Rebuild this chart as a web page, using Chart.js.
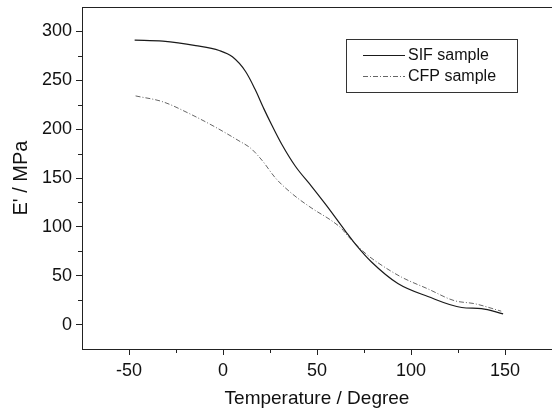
<!DOCTYPE html>
<html>
<head>
<meta charset="utf-8">
<script src="https://cdn.jsdelivr.net/npm/chart.js@4/dist/chart.umd.min.js"></script>
<style>
html,body{margin:0;padding:0;background:#fff;}
#c{display:block;}
</style>
</head>
<body>
<canvas id="c" width="552" height="414"></canvas>
<script>
// Data
const seriesLabels = ["SIF sample", "CFP sample"];
const sifT = [-47, -32, -14.5, -2, 5, 12, 17, 21.7, 26, 31.4, 38.5, 47.3, 55, 65, 71.2, 79, 93, 109, 127, 137.5, 149];
const sifE = [291, 290, 285.5, 280.5, 274, 259, 241, 221, 204, 184, 162, 141, 122, 96, 80.5, 64, 42, 28.7, 17.5, 16.4, 11];
const cfpT = [-46.5, -32, -18, -4, 8.5, 14.7, 20.8, 27.9, 36.7, 47.3, 58, 63.2, 66, 76, 83, 95, 109, 123, 134, 148];
const cfpE = [234, 228, 216, 202, 188, 180.5, 168, 150, 134, 119, 106, 98, 91.5, 72.5, 62.5, 48.5, 36.5, 24.5, 21.3, 13.7];
const xMajorTicks = [-50, 0, 50, 100, 150];
const yMajorTicks = [0, 50, 100, 150, 200, 250, 300];

const FONT = "'Liberation Sans', Arial, sans-serif";
const toPts = (xs, ys) => xs.map((x, i) => ({x: x, y: ys[i]}));

const minorTicks = {
  id: 'minorTicks',
  afterDraw(chart) {
    const ctx = chart.ctx, a = chart.chartArea;
    const xs = chart.scales.x, ys = chart.scales.y;
    ctx.save();
    ctx.strokeStyle = '#222';
    ctx.lineWidth = 1;
    ctx.beginPath();
    // top frame line
    ctx.moveTo(a.left, a.top + 0.5); ctx.lineTo(a.right, a.top + 0.5);
    for (let v = -75; v <= 175; v += 50) {
      const p = Math.round(xs.getPixelForValue(v)) + 0.5;
      if (p > a.left + 1 && p < a.right - 1) { ctx.moveTo(p, a.bottom); ctx.lineTo(p, a.bottom + 4); }
    }
    for (let v = -25; v <= 325; v += 50) {
      const p = Math.round(ys.getPixelForValue(v)) + 0.5;
      if (p > a.top + 1 && p < a.bottom - 1) { ctx.moveTo(a.left, p); ctx.lineTo(a.left - 4, p); }
    }
    ctx.stroke();

    // legend box
    const bx = a.left + 264, by = 39, bw = 171, bh = 53;
    ctx.strokeStyle = '#333';
    ctx.strokeRect(bx + 0.5, by + 0.5, bw, bh);
    ctx.font = '16px ' + FONT;
    ctx.textBaseline = 'middle';
    ctx.fillStyle = '#111';
    chart.data.datasets.forEach((ds, i) => {
      const y = by + 16 + i * 21 + 0.5;
      ctx.strokeStyle = ds.borderColor;
      ctx.lineWidth = ds.borderWidth;
      ctx.setLineDash(ds.borderDash || []);
      ctx.beginPath();
      ctx.moveTo(bx + 17, y); ctx.lineTo(bx + 59, y);
      ctx.stroke();
      ctx.setLineDash([]);
      ctx.fillText(ds.label, bx + 62, y);
    });
    ctx.restore();
  }
};

new Chart(document.getElementById('c'), {
  type: 'line',
  data: {
    datasets: [
      {
        label: seriesLabels[0],
        data: toPts(sifT, sifE),
        borderColor: '#1a1a1a',
        borderWidth: 1.2,
        pointRadius: 0,
        fill: false,
        cubicInterpolationMode: 'monotone'
      },
      {
        label: seriesLabels[1],
        data: toPts(cfpT, cfpE),
        borderColor: '#666',
        borderWidth: 1,
        borderDash: [5, 2, 1, 2],
        pointRadius: 0,
        fill: false,
        cubicInterpolationMode: 'monotone'
      }
    ]
  },
  options: {
    responsive: false,
    animation: false,
    layout: {padding: {left: 0, top: 7, right: 0, bottom: 0}},
    plugins: {legend: {display: false}, tooltip: {enabled: false}},
    scales: {
      x: {
        type: 'linear',
        min: -75, max: 175,
        afterFit(s) { s.height = 65; s.paddingLeft = 0; s.paddingRight = 0; },
        afterBuildTicks(s) { s.ticks = xMajorTicks.map(v => ({value: v})); },
        border: {display: true, color: '#222', width: 1},
        grid: {drawOnChartArea: false, drawTicks: true, tickLength: 6, color: '#222'},
        ticks: {color: '#111', font: {family: FONT, size: 18}, padding: 5, maxRotation: 0},
        title: {display: true, text: 'Temperature / Degree', color: '#111', font: {family: FONT, size: 19}, padding: {top: 2}}
      },
      y: {
        type: 'linear',
        min: -25, max: 325,
        afterFit(s) { s.width = 82; s.paddingTop = 0; s.paddingBottom = 0; },
        afterBuildTicks(s) { s.ticks = yMajorTicks.map(v => ({value: v})); },
        border: {display: true, color: '#222', width: 1},
        grid: {drawOnChartArea: false, drawTicks: true, tickLength: 6, color: '#222'},
        ticks: {color: '#111', font: {family: FONT, size: 18}, padding: 4},
        title: {display: true, text: "E' / MPa", color: '#111', font: {family: FONT, size: 20}, padding: {top: 9, bottom: 0}}
      }
    }
  },
  plugins: [minorTicks]
});
</script>
</body>
</html>
